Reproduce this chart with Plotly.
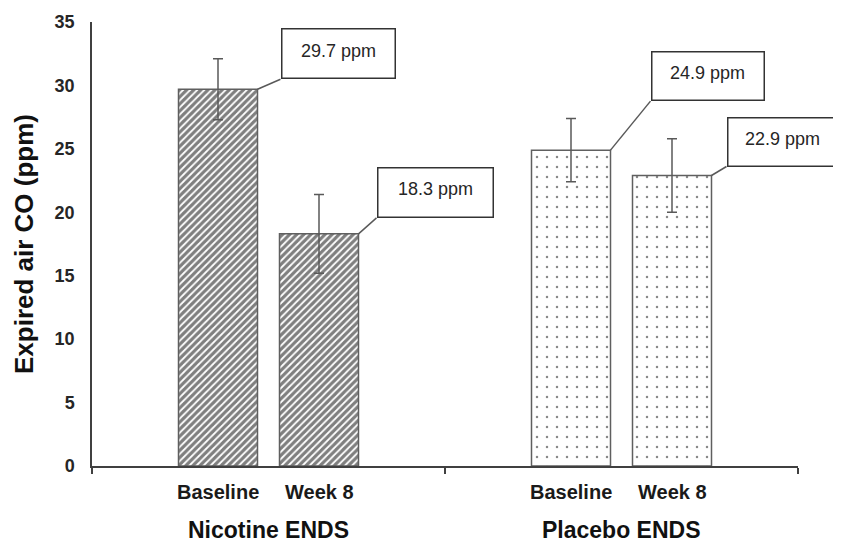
import plotly.graph_objects as go

# ---------------- data ----------------
groups = ["Nicotine ENDS", "Placebo ENDS"]
timepoints = ["Baseline", "Week 8"]
nicotine_means = [29.7, 18.3]
nicotine_errors = [2.4, 3.1]
placebo_means = [24.9, 22.9]
placebo_errors = [2.5, 2.9]
y_ticks = [0, 5, 10, 15, 20, 25, 30, 35]
y_title = "Expired air CO (ppm)"

# ---------------- layout constants ----------------
# the page body adds an 8px margin, so the figure is sized/offset to compensate
W, H = 833, 536
M_L, M_R, M_T, M_B = 84, 43, 14, 78
group_width = 353          # x units == px
bar_offset = 50.5
bar_width = 79
callout_offsets = [(23, 10), (18, 16), (40, 49), (15, 9)]     # px from bar top-right corner
callout_sizes = [(115, 51), (117, 51), (114, 50), (111, 50)]  # px
FONT = "Liberation Sans"
AXIS_COLOR = "#404040"

means_by_group = [nicotine_means, placebo_means]
errors_by_group = [nicotine_errors, placebo_errors]
patterns = [
    dict(shape="/", size=5, solidity=0.65, fgcolor="black", fillmode="overlay"),
    dict(shape=".", size=10, solidity=0.05, fgcolor="#111111", fillmode="overlay"),
]

fig = go.Figure()
bar_x_all, mean_all = [], []
for g, grp in enumerate(groups):
    center = (g + 0.5) * group_width
    xs = [center + (i - 0.5) * 2 * bar_offset for i in range(len(timepoints))]
    bar_x_all += xs
    mean_all += means_by_group[g]
    fig.add_trace(go.Bar(
        x=xs, y=means_by_group[g], width=bar_width, name=grp,
        marker=dict(color="white", line=dict(color="#5f5f5f", width=1.5),
                    pattern=patterns[g]),
        error_y=dict(type="data", array=errors_by_group[g], visible=True,
                     color="#595959", thickness=1.5, width=5),
        showlegend=False,
    ))

annotations = []
shapes = []
# category labels
for g, grp in enumerate(groups):
    center = (g + 0.5) * group_width
    for i, tp in enumerate(timepoints):
        annotations.append(dict(
            x=center + (i - 0.5) * 2 * bar_offset, y=0, xref="x", yref="paper",
            text=tp, showarrow=False, xanchor="center", yanchor="middle", yshift=-26,
            font=dict(family=FONT, size=20, weight="bold", color="#1a1a1a")))
    annotations.append(dict(
        x=center, y=0, xref="x", yref="paper", text=grp, showarrow=False,
        xanchor="center", yanchor="middle", yshift=-64,
        font=dict(family=FONT, size=23, weight="bold", color="#111111")))

# callouts
for k, (bx, m) in enumerate(zip(bar_x_all, mean_all)):
    cx = bx + bar_width / 2
    dx, up = callout_offsets[k]
    w, h = callout_sizes[k]
    shapes.append(dict(type="line", xref="x", yref="y", xsizemode="pixel", ysizemode="pixel",
                       xanchor=cx, yanchor=m, x0=0, y0=0, x1=dx, y1=up,
                       line=dict(color="#595959", width=1.5)))
    annotations.append(dict(
        x=cx, y=m, xref="x", yref="y", text=" ", showarrow=False,
        xanchor="left", yanchor="bottom", xshift=dx, yshift=up,
        width=w - 3, height=h - 3, borderwidth=1.5, borderpad=0,
        bordercolor="#333333", bgcolor="white"))
    annotations.append(dict(
        x=cx, y=m, xref="x", yref="y", text=f"{m} ppm", showarrow=False,
        xanchor="center", yanchor="middle", xshift=dx + w / 2, yshift=up + h / 2 + 3,
        font=dict(family=FONT, size=18, color="#262626")))

fig.update_layout(
    width=W, height=H,
    margin=dict(l=M_L, r=M_R, t=M_T, b=M_B, autoexpand=False),
    paper_bgcolor="white", plot_bgcolor="white",
    annotations=annotations, shapes=shapes,
    xaxis=dict(range=[0, 2 * group_width], showgrid=False, zeroline=False,
               showline=True, linecolor=AXIS_COLOR, linewidth=1.5,
               tickvals=[0, group_width, 2 * group_width], ticks="outside",
               ticklen=6, tickwidth=1.5, tickcolor=AXIS_COLOR, showticklabels=False),
    yaxis=dict(range=[0, 35], tickvals=y_ticks, showgrid=False, zeroline=False,
               showline=True, linecolor=AXIS_COLOR, linewidth=1.5, ticks="",
               ticklabelstandoff=12,
               tickfont=dict(family=FONT, size=18, weight="bold", color="#262626"),
               title=dict(text=y_title, standoff=14,
                          font=dict(family=FONT, size=26, weight="bold", color="#111111"))),
)

fig.write_html("out.html")
